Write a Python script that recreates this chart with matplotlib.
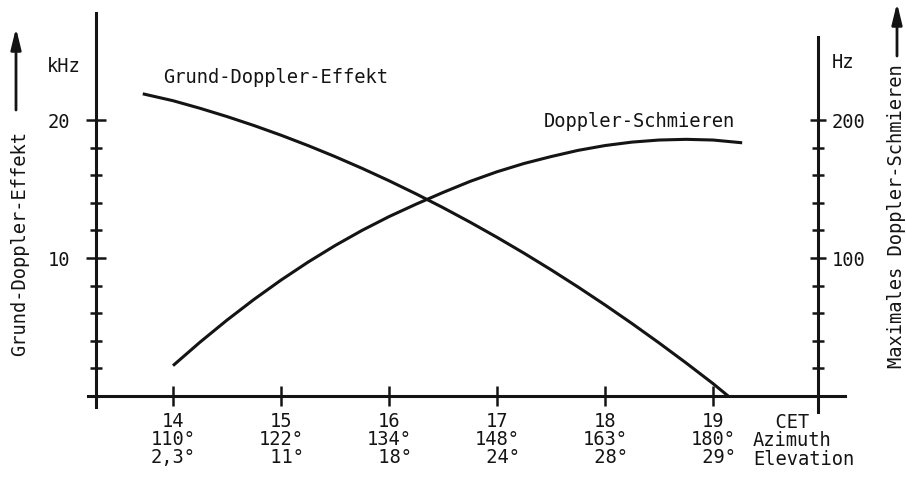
import numpy as np
import matplotlib
matplotlib.use('Agg')
import matplotlib.pyplot as plt
from matplotlib.ticker import FixedLocator, NullFormatter

# zeit (MEZ) mit Azimut und Elevation
hours = [14, 15, 16, 17, 18, 19]
azimuth = ['110°', '122°', '134°', '148°', '163°', '180°']
elevation = ['2,3°', '11°', '18°', '24°', '28°', '29°']

# Grund-Doppler-Effekt, kHz
grund_t = [13.72, 14.0, 14.25, 14.5, 14.75, 15.0, 15.25, 15.5, 15.75, 16.0, 16.25,
           16.5, 16.75, 17.0, 17.25, 17.5, 17.75, 18.0, 18.25, 18.5, 18.75, 19.0, 19.14]
grund_khz = [21.9, 21.4, 20.85, 20.25, 19.6, 18.9, 18.15, 17.35, 16.5, 15.6, 14.65,
             13.65, 12.6, 11.5, 10.35, 9.15, 7.9, 6.6, 5.25, 3.85, 2.4, 0.9, 0.0]

# maximales Doppler-Schmieren, Hz
schm_t = [14.0, 14.25, 14.5, 14.75, 15.0, 15.25, 15.5, 15.75, 16.0, 16.25, 16.5,
          16.75, 17.0, 17.25, 17.5, 17.75, 18.0, 18.25, 18.5, 18.75, 19.0, 19.27]
schm_hz = [22, 39, 55, 70, 84, 97, 109, 120, 130, 139, 147.5,
           155.5, 162.5, 168.5, 173.5, 178, 181.5, 184, 185.5, 186, 185.5, 183.5]

ink = '#141414'
mono = 'DejaVu Sans Mono'
fs = 13.5
plt.rcParams['font.family'] = mono

W, H = 906, 484
fig = plt.figure(figsize=(W/100, H/100), dpi=100)
fig.patch.set_facecolor('white')

ax = fig.add_axes([88/W, 1-412/H, (845-88)/W, (412-3)/H])
ax.set_xlim(13.213, 20.222)
ax.set_ylim(-1.159, 28.48)
ax.patch.set_alpha(0)

ax.plot(grund_t, grund_khz, color=ink, lw=2.2, solid_capstyle='butt', solid_joinstyle='round')

ax2 = ax.twinx()
ax2.set_ylim(-11.59, 284.8)
ax2.plot(schm_t, schm_hz, color=ink, lw=2.2, solid_capstyle='butt', solid_joinstyle='round')

# achsen
for s in ['top', 'right']:
    ax.spines[s].set_visible(False)
for s in ['top', 'left', 'bottom']:
    ax2.spines[s].set_visible(False)

ax.spines['left'].set_position(('data', 13.29))
ax.spines['left'].set_bounds(-0.8, 27.75)
ax.spines['bottom'].set_position(('data', 0))
ax2.spines['right'].set_position(('data', 19.97))
ax2.spines['right'].set_bounds(-11.6, 260)
for sp in [ax.spines['left'], ax.spines['bottom'], ax2.spines['right']]:
    sp.set_linewidth(2.2)
    sp.set_color(ink)

# x ticks
ax.set_xticks(hours)
labels = ['%d\n%s\n%s' % (h, a, e.rjust(4)) for h, a, e in zip(hours, azimuth, elevation)]
ax.set_xticklabels(labels, linespacing=0.95)
ax.tick_params(axis='x', direction='inout', length=15, width=1.8, color=ink,
               labelsize=fs, labelcolor=ink, pad=4)

# links: kHz
ax.yaxis.set_major_locator(FixedLocator([10, 20]))
ax.yaxis.set_minor_locator(FixedLocator([2, 4, 6, 8, 12, 14, 16, 18]))
ax.yaxis.set_minor_formatter(NullFormatter())
ax.tick_params(axis='y', which='major', direction='inout', length=14, width=1.8,
               color=ink, labelsize=fs, labelcolor=ink, pad=12)
ax.tick_params(axis='y', which='minor', direction='inout', length=9, width=1.8, color=ink)

# rechts: Hz
ax2.yaxis.set_major_locator(FixedLocator([100, 200]))
ax2.yaxis.set_minor_locator(FixedLocator([20, 40, 60, 80, 120, 140, 160, 180]))
ax2.yaxis.set_minor_formatter(NullFormatter())
ax2.tick_params(axis='y', which='major', direction='inout', length=12, width=1.8,
                color=ink, labelsize=fs, labelcolor=ink, pad=4)
ax2.tick_params(axis='y', which='minor', direction='inout', length=9, width=1.8, color=ink)

# kurvenbeschriftung
ax.text(13.91, 23.1, 'Grund-Doppler-Effekt', fontsize=fs, color=ink, va='center', ha='left')
ax.text(17.43, 19.86, 'Doppler-Schmieren', fontsize=fs, color=ink, va='center', ha='left')

def px(x, y):
    return x/W, 1-y/H

fig.text(*px(64, 67), 'kHz', fontsize=fs, color=ink, ha='center', va='center')
fig.text(*px(843, 62), 'Hz', fontsize=fs, color=ink, ha='center', va='center')
fig.text(*px(753, 441), '  CET\nAzimuth\nElevation', fontsize=fs, color=ink,
         ha='left', va='center', linespacing=0.95)

fig.text(*px(20, 244), 'Grund-Doppler-Effekt', fontsize=fs, color=ink,
         rotation=90, ha='center', va='center')
fig.text(*px(897, 216), 'Maximales Doppler-Schmieren', fontsize=fs, color=ink,
         rotation=90, ha='center', va='center')

arrow = dict(arrowstyle='-|>,head_length=0.9,head_width=0.22', lw=2.0, color=ink,
             shrinkA=0, shrinkB=0, mutation_scale=14)
ax.annotate('', xy=(16, H-28), xytext=(16, H-110), xycoords='figure pixels',
            textcoords='figure pixels', arrowprops=arrow)
ax.annotate('', xy=(897, H-3), xytext=(897, H-56), xycoords='figure pixels',
            textcoords='figure pixels', arrowprops=arrow)

fig.savefig('out.png', dpi=100, facecolor='white')
